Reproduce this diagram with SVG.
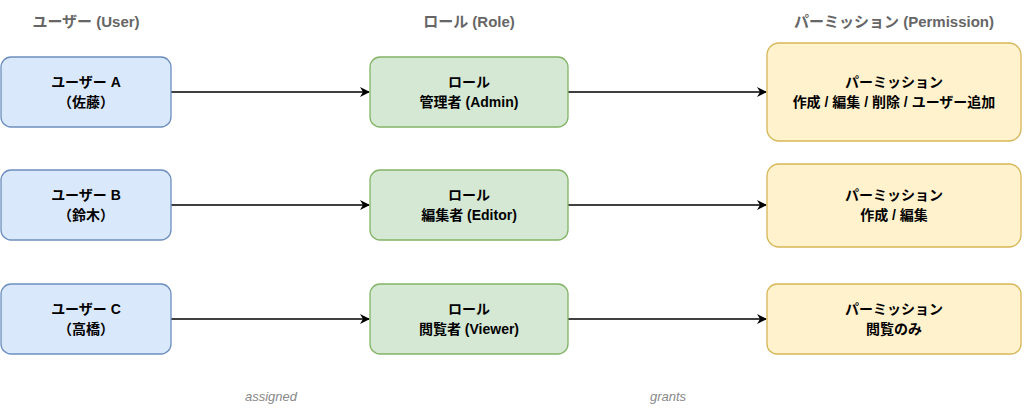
<svg xmlns="http://www.w3.org/2000/svg" width="1024" height="412" viewBox="0 0 1024 412">
<style>
text{font-family:"Liberation Sans","Noto Sans CJK JP",sans-serif;text-anchor:middle}
.h{font-size:15px;font-weight:bold;fill:#666}
.t{font-size:14px;font-weight:bold;fill:#000}
.l{font-size:13px;font-style:italic;fill:#888}
.u{fill:#dae8fc;stroke:#6c8ebf;stroke-width:1.3}
.r{fill:#d5e8d4;stroke:#82b366;stroke-width:1.3}
.p{fill:#fff2cc;stroke:#d6b656;stroke-width:1.3}
.c{stroke:#000;stroke-width:1.3;fill:none;marker-end:url(#a)}
</style>
<defs><marker id="a" markerWidth="10" markerHeight="10" refX="9" refY="5" orient="auto" markerUnits="userSpaceOnUse"><path d="M0,0 L10,5 L0,10 L3,5 Z" fill="#000"/></marker></defs>
<rect width="1024" height="412" fill="#fff"/>
<text class="h" x="86" y="27">ユーザー (User)</text>
<text class="h" x="469" y="27">ロール (Role)</text>
<text class="h" x="894" y="27">パーミッション (Permission)</text>
<g id="connectors">
<path class="c" d="M171,92 H369"/><path class="c" d="M171,205 H369"/><path class="c" d="M171,319 H369"/>
<path class="c" d="M568,92 H766"/><path class="c" d="M568,205 H766"/><path class="c" d="M568,319 H766"/>
</g>
<g id="userA"><rect class="u" x="1" y="57" width="170" height="70" rx="10"/><text class="t" x="86" y="87">ユーザー A</text><text class="t" x="86" y="107">（佐藤）</text></g>
<g id="userB"><rect class="u" x="1" y="170" width="170" height="70" rx="10"/><text class="t" x="86" y="200">ユーザー B</text><text class="t" x="86" y="220">（鈴木）</text></g>
<g id="userC"><rect class="u" x="1" y="284" width="170" height="70" rx="10"/><text class="t" x="86" y="314">ユーザー C</text><text class="t" x="86" y="334">（高橋）</text></g>
<g id="roleA"><rect class="r" x="370" y="57" width="198" height="70" rx="10"/><text class="t" x="469" y="87">ロール</text><text class="t" x="469" y="107">管理者 (Admin)</text></g>
<g id="roleB"><rect class="r" x="370" y="170" width="198" height="70" rx="10"/><text class="t" x="469" y="200">ロール</text><text class="t" x="469" y="220">編集者 (Editor)</text></g>
<g id="roleC"><rect class="r" x="370" y="284" width="198" height="70" rx="10"/><text class="t" x="469" y="314">ロール</text><text class="t" x="469" y="334">閲覧者 (Viewer)</text></g>
<g id="permA"><rect class="p" x="767" y="43" width="254" height="98" rx="12"/><text class="t" x="894" y="87">パーミッション</text><text class="t" x="894" y="107">作成 / 編集 / 削除 / ユーザー追加</text></g>
<g id="permB"><rect class="p" x="767" y="164" width="254" height="83" rx="12"/><text class="t" x="894" y="200">パーミッション</text><text class="t" x="894" y="220">作成 / 編集</text></g>
<g id="permC"><rect class="p" x="767" y="284" width="254" height="70" rx="10"/><text class="t" x="894" y="314">パーミッション</text><text class="t" x="894" y="334">閲覧のみ</text></g>
<text class="l" x="271" y="401">assigned</text>
<text class="l" x="668" y="401">grants</text>
</svg>
